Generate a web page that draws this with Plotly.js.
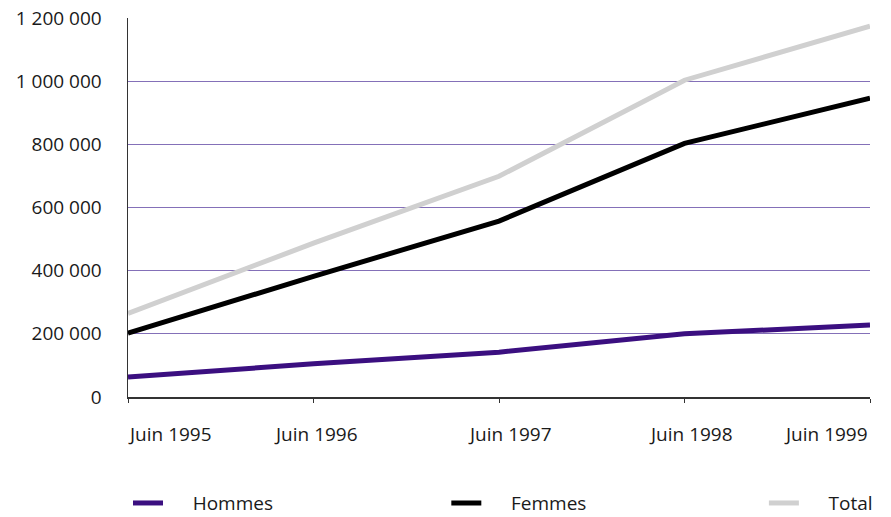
<!DOCTYPE html>
<html>
<head>
<meta charset="utf-8">
<script src="https://cdn.plot.ly/plotly-3.0.1.min.js"></script>
<style>html,body{margin:0;padding:0;background:#fff;}#chart{width:891px;height:517px;}</style>
</head>
<body>
<div id="chart"></div>
<script>
const categories = ['Juin 1995', 'Juin 1996', 'Juin 1997', 'Juin 1998', 'Juin 1999'];
const hommes = [63000, 105000, 142000, 200000, 228000];
const femmes = [202000, 382000, 557000, 803000, 946000];
const total = [265000, 487000, 699000, 1003000, 1174000];
const seriesNames = ['Hommes', 'Femmes', 'Total'];
const yTickVals = [0, 200000, 400000, 600000, 800000, 1000000, 1200000];
const yTickText = ['0', '200 000', '400 000', '600 000', '800 000', '1 000 000', '1 200 000'];

const FONT = 'Open Sans, Noto Sans, sans-serif';
const pad = '&nbsp;&nbsp;&nbsp;&nbsp;&nbsp;';

const traces = [
  {x: categories, y: hommes, name: pad + seriesNames[0], type: 'scatter', mode: 'lines',
   line: {color: '#3b0f80', width: 5}, legend: 'legend'},
  {x: categories, y: femmes, name: pad + seriesNames[1], type: 'scatter', mode: 'lines',
   line: {color: '#000000', width: 5}, legend: 'legend2'},
  {x: categories, y: total, name: pad + seriesNames[2], type: 'scatter', mode: 'lines',
   line: {color: '#d0d0d0', width: 5}, legend: 'legend3'}
];

const anchors = ['left', 'center', 'center', 'center', 'right'];
const shifts = [-2, 2, 11, 6, 0];
const annotations = categories.map((c, i) => ({
  x: c, y: 0, xref: 'x', yref: 'paper', text: c, showarrow: false,
  xanchor: anchors[i], yanchor: 'middle', yshift: -37, xshift: shifts[i],
  font: {family: FONT, size: 19, color: '#1a1a1a'}
}));

function leg(x) {
  return {orientation: 'h', x: x, xanchor: 'left', y: -0.28, yanchor: 'middle',
          itemwidth: 30, bgcolor: 'rgba(0,0,0,0)',
          font: {family: FONT, size: 19, color: '#1a1a1a'}};
}

const layout = {
  width: 891, height: 517,
  margin: {l: 128, r: 21, t: 18, b: 120, autoexpand: false},
  paper_bgcolor: '#fff', plot_bgcolor: '#fff',
  font: {family: FONT, size: 19, color: '#1a1a1a'},
  showlegend: true,
  legend: leg(0),
  legend2: leg(0.429),
  legend3: leg(0.857),
  xaxis: {type: 'category', range: [0, 4], showgrid: false, zeroline: false,
          showline: true, linecolor: '#333', linewidth: 1.5,
          ticks: 'outside', ticklen: 4, tickcolor: '#333', showticklabels: false,
          fixedrange: true},
  yaxis: {range: [0, 1200000], tickvals: yTickVals, ticktext: yTickText,
          showgrid: true, gridcolor: '#8470b8', gridwidth: 1, zeroline: false,
          showline: true, linecolor: '#333', linewidth: 1.5, ticks: '',
          ticklabelstandoff: 21, tickfont: {family: FONT, size: 19, color: '#1a1a1a'},
          fixedrange: true},
  annotations: annotations
};

Plotly.newPlot('chart', traces, layout, {displayModeBar: false, staticPlot: true});
</script>
</body>
</html>
